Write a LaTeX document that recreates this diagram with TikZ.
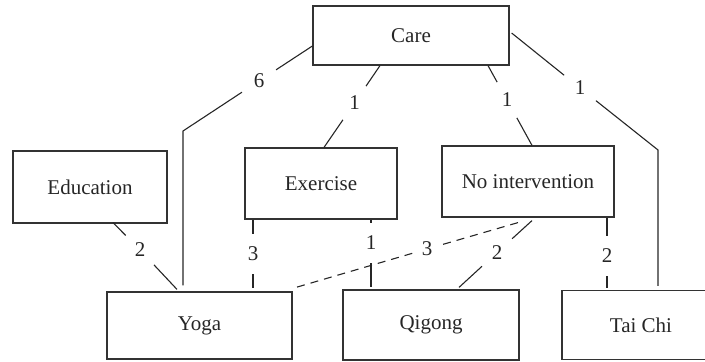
\documentclass[tikz,border=0pt]{standalone}
\usepackage{fontspec}
\setmainfont{Liberation Serif}
\usetikzlibrary{calc}
\begin{document}
\begin{tikzpicture}[x=0.5pt,y=-0.5pt,
  box/.style={draw=black!80, line width=0.6pt, rectangle, inner sep=0pt,
              font=\fontsize{10.5}{12}\selectfont, text=black!85},
  lab/.style={circle, inner sep=0pt, minimum size=20pt,
              font=\fontsize{10.5}{12}\selectfont, text=black!85},
  labs/.style={lab, minimum size=15pt},
  conn/.style={draw=black!85, line width=0.55pt},
  dconn/.style={conn, dash pattern=on 4pt off 3pt}]
\useasboundingbox (0,0) rectangle (705,362);
% boxes
\node[box, minimum width=98pt, minimum height=29.5pt] (care) at (411,35.5) {Care};
\node[box, minimum width=77pt, minimum height=36pt] (edu) at (90,187) {Education};
\node[box, minimum width=76pt, minimum height=35.5pt] (exer) at (321,183.5) {Exercise};
\node[box, minimum width=86pt, minimum height=35.5pt] (noint) at (528,181.5) {No intervention};
\node[box, minimum width=92.5pt, minimum height=33.5pt] (yoga) at (199.5,325.5) {Yoga};
\node[box, minimum width=88pt, minimum height=35pt] (qigong) at (431,325) {Qigong};
\node[box, minimum width=79pt, minimum height=34.5pt] (taichi) at (641,325) {Tai Chi};
% labels
\node[lab] (l6) at (259,81) {6};
\node[lab] (l1a) at (354.5,103) {1};
\node[lab] (l1b) at (507,100) {1};
\node[lab] (l1c) at (580,88) {1};
\node[lab] (l2a) at (140,250) {2};
\node[lab] (l3a) at (253,254) {3};
\node[lab] (l1d) at (371,243) {1};
\node[labs] (l3b) at (427,249) {3};
\node[lab] (l2b) at (497,252.5) {2};
\node[lab] (l2c) at (607,256) {2};
% bend points
\coordinate (b6) at (183,131);
\coordinate (bt) at (658,150);
% connectors
\draw[conn] ($(care.west)+(0,10.5)$) -- (l6);
\draw[conn] (l6) -- (b6) -- ($(yoga.north)+(-16.5,-6)$);
\draw[conn] ($(care.south)+(-31,0)$) -- (l1a);
\draw[conn] (l1a) -- ($(exer.north)+(3,0)$);
\draw[conn] ($(care.south)+(77,0)$) -- (l1b);
\draw[conn] (l1b) -- ($(noint.north)+(4,0)$);
\draw[conn] ($(care.east)+(2,-2.5)$) -- (l1c);
\draw[conn] (l1c) -- (bt) -- ($(taichi.north)+(17,-4)$);
\draw[conn] ($(edu.south)+(23,-1)$) -- (l2a);
\draw[conn] (l2a) -- ($(yoga.north)+(-22.5,-2)$);
\draw[conn] ($(exer.south)+(-68,0)$) -- (l3a);
\draw[conn] (l3a) -- ($(yoga.north)+(53.5,-3)$);
\draw[conn] ($(exer.south)+(50,0)$) -- (l1d);
\draw[conn] (l1d) -- ($(qigong.north)+(-60,-2)$);
\draw[dconn] ($(noint.south)+(-10,5)$) -- (l3b);
\draw[dconn] (l3b) -- ($(yoga.north east)+(0,-3)$);
\draw[conn] ($(noint.south)+(4,3)$) -- (l2b);
\draw[conn] (l2b) -- ($(qigong.north)+(28,-2)$);
\draw[conn] ($(noint.south)+(79,0)$) -- (l2c);
\draw[conn] (l2c) -- ($(taichi.north)+(-34,-2)$);
\end{tikzpicture}
\end{document}
